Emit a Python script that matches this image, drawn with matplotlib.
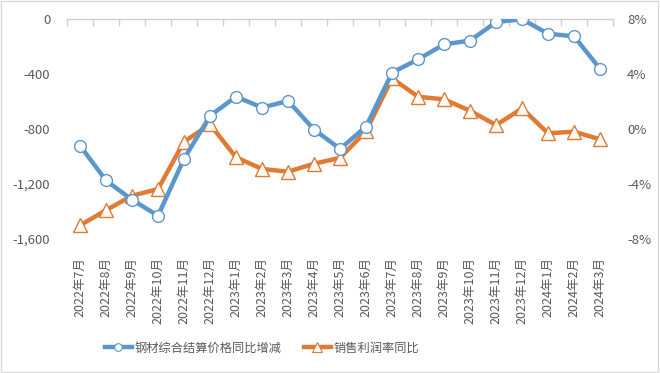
import matplotlib
matplotlib.use("Agg")
import matplotlib.pyplot as plt
from matplotlib.ticker import FuncFormatter, FixedLocator
from matplotlib.patches import Rectangle
from matplotlib.lines import Line2D

plt.rcParams['font.family'] = ['Noto Sans CJK SC', 'DejaVu Sans']

categories = ["2022年7月", "2022年8月", "2022年9月", "2022年10月", "2022年11月", "2022年12月",
              "2023年1月", "2023年2月", "2023年3月", "2023年4月", "2023年5月", "2023年6月",
              "2023年7月", "2023年8月", "2023年9月", "2023年10月", "2023年11月", "2023年12月",
              "2024年1月", "2024年2月", "2024年3月"]
price_yoy = [-920, -1174, -1314, -1430, -1016, -704, -564, -644, -595, -804, -944, -782,
             -390, -293, -184, -157, -22, -2, -107, -126, -363]
margin_yoy = [-7.0, -5.9, -4.85, -4.36, -0.92, 0.34, -2.06, -2.9, -3.1, -2.52, -2.09, -0.15,
              3.69, 2.35, 2.16, 1.33, 0.29, 1.5, -0.31, -0.19, -0.75]
left_ticks = [0, -400, -800, -1200, -1600]
right_ticks = [8, 4, 0, -4, -8]

name_price = "钢材综合结算价格同比增减"
name_margin = "销售利润率同比"

blue = "#5b97cc"
orange = "#e07a35"
gray = "#595959"
axis_gray = "#d0d0d0"

fig = plt.figure(figsize=(6.6, 3.73), dpi=100)
ax = fig.add_axes([0.1015, 0.359, 0.8275, 0.590])
ax2 = ax.twinx()

x = list(range(len(categories)))
l1, = ax.plot(x, price_yoy, color=blue, lw=3.2, marker='o', ms=8.5,
              mfc='white', mec=blue, mew=1.0, zorder=3, label=name_price)
l2, = ax2.plot(x, margin_yoy, color=orange, lw=3.2, marker='^', ms=10,
               mfc='#fffaf4', mec=orange, mew=1.0, zorder=3, label=name_margin)
ax.set_zorder(ax2.get_zorder() + 1)
ax.patch.set_visible(False)

ax.set_xlim(-0.5, len(categories) - 0.5)
ax.set_ylim(-1600, 0)
ax2.set_ylim(-8, 8)

ax.set_yticks(left_ticks)
ax.yaxis.set_major_formatter(FuncFormatter(lambda v, p: f"{int(v):,}"))
ax2.set_yticks(right_ticks)
ax2.yaxis.set_major_formatter(FuncFormatter(lambda v, p: f"{int(v)}%"))

for s in ['left', 'right', 'bottom']:
    ax.spines[s].set_visible(False)
    ax2.spines[s].set_visible(False)
ax2.spines['top'].set_visible(False)
ax.spines['top'].set_color(axis_gray)
ax.spines['top'].set_linewidth(1.0)

ax.tick_params(axis='y', length=0, labelsize=9.5, labelcolor=gray, pad=12)
ax2.tick_params(axis='y', length=0, labelsize=9.5, labelcolor=gray, pad=10)

ax.set_xticks(x)
ax.set_xticklabels(categories, rotation=90, fontsize=9, color=gray, va='top')
ax.tick_params(axis='x', which='major', length=0, pad=13, bottom=True, top=False)
ax.xaxis.set_minor_locator(FixedLocator([i - 0.5 for i in range(len(categories) + 1)]))
ax.tick_params(axis='x', which='minor', top=True, bottom=False, direction='in',
               length=5, color=axis_gray, width=1.0)

h1 = Line2D([], [], color=blue, lw=3.2, marker='o', ms=5.5, mfc='white', mec=blue, mew=0.8)
h2 = Line2D([], [], color=orange, lw=3.2, marker='^', ms=6.5, mfc='#fffaf4', mec=orange, mew=0.8)
leg = fig.legend(handles=[h1, h2], labels=[name_price, name_margin], loc='center',
                 bbox_to_anchor=(0.397, 0.067), ncol=2,
                 frameon=False, fontsize=8.8, handlelength=2.2, columnspacing=1.8,
                 handletextpad=0.25, labelcolor=gray)

fig.patches.append(Rectangle((0.002, 0.003), 0.995, 0.994, transform=fig.transFigure,
                             fill=False, edgecolor='#d9d9d9', lw=1.0))

fig.savefig("out.png", dpi=100)
